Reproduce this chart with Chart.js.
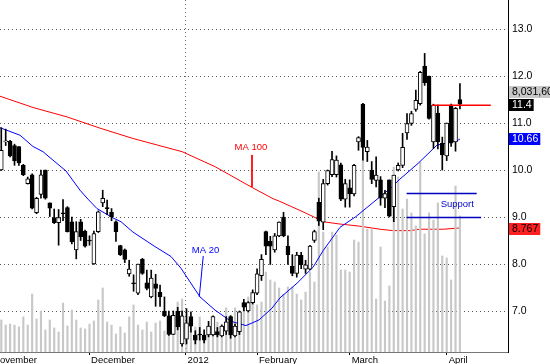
<!DOCTYPE html>
<html>
<head>
<meta charset="UTF-8">
<title>Price chart</title>
<script src="https://cdn.jsdelivr.net/npm/chart.js"></script>
<style>
  html, body { margin: 0; padding: 0; background: #fff; }
</style>
</head>
<body>
<canvas id="chart" width="550" height="364"></canvas>
<script>
// daily bars, index 0 = first bar on the left
const opens  = [10.00,10.60,10.61,10.52,10.50,10.10,9.71,9.90,9.09,9.48,10.00,9.30,8.99,8.88,9.08,9.20,8.90,8.30,8.90,8.70,
                8.50,8.00,8.69,9.30,9.20,9.10,8.90,8.39,8.30,7.79,7.60,7.38,8.10,7.60,7.30,7.58,7.40,7.00,6.90,6.50,
                7.00,6.30,6.40,6.88,6.49,6.50,6.49,6.49,6.49,6.56,6.47,6.57,6.88,6.47,6.56,7.18,7.00,7.18,7.38,7.75,
                8.69,8.48,8.30,8.60,9.00,8.38,7.95,7.80,8.19,7.89,7.89,8.50,9.31,8.89,9.71,9.90,9.90,10.11,9.38,9.62,
                9.49,10.60,11.40,10.39,10.00,9.78,9.79,9.40,9.79,9.22,10.00,10.10,10.79,10.99,11.29,11.41,12.21,12.00,10.60,11.21,
                10.57,10.30,11.38,10.60,11.50];
const highs  = [10.90,10.87,10.63,10.55,10.50,10.12,9.85,9.92,9.42,10.00,10.00,9.30,9.17,9.16,9.37,9.22,9.00,8.90,8.95,8.72,
                8.60,8.70,9.13,9.57,9.36,9.18,8.92,8.40,8.32,8.08,7.77,8.00,8.12,7.87,7.87,7.78,7.55,7.30,7.00,7.00,
                7.08,7.00,7.05,6.98,6.58,6.65,6.60,6.78,6.90,6.65,6.70,6.88,6.90,6.72,7.00,7.25,7.20,7.45,7.90,8.20,
                8.70,8.59,8.65,8.90,9.10,8.60,8.20,8.25,8.25,8.08,8.40,8.72,9.40,9.80,10.00,10.40,10.30,10.15,9.80,9.79,
                10.12,10.71,11.42,10.63,10.18,10.28,9.86,9.57,9.79,9.89,10.15,10.78,11.20,11.25,11.70,12.10,12.48,12.00,11.40,11.38,
                10.70,11.00,11.40,11.33,11.84];
const lows   = [9.99,10.52,10.28,10.10,10.10,9.88,9.70,9.17,9.07,9.40,9.38,9.01,8.86,8.40,8.92,8.68,8.43,8.11,8.50,8.36,
                8.40,7.99,8.67,9.22,9.05,8.92,8.48,8.18,8.03,7.74,7.42,7.35,7.78,7.45,7.28,7.10,7.10,6.88,6.48,6.50,
                6.60,6.25,6.30,6.55,6.30,6.38,6.32,6.45,6.47,6.45,6.45,6.50,6.42,6.45,6.50,7.00,6.98,7.15,7.35,7.65,
                8.20,7.99,8.25,8.58,8.58,7.99,7.75,7.72,7.90,7.80,7.88,8.46,8.82,8.73,9.68,9.86,9.85,9.35,9.21,9.21,
                9.45,10.42,10.21,10.18,9.71,9.64,9.25,9.20,9.00,8.90,9.98,10.05,10.65,10.95,11.25,11.38,11.80,11.08,10.46,10.45,
                10.00,10.20,10.50,10.40,11.30];
const closes = [10.42,10.62,10.30,10.20,10.15,9.90,9.81,9.19,9.40,9.90,9.40,9.19,8.88,8.99,9.07,8.69,8.47,8.69,8.58,8.38,
                8.49,8.65,9.11,9.40,9.18,9.00,8.69,8.20,8.10,7.89,7.58,8.00,7.80,7.48,7.70,7.48,7.30,6.90,6.50,6.91,
                6.66,6.90,6.75,6.68,6.38,6.49,6.38,6.68,6.88,6.49,6.68,6.77,6.49,6.68,6.98,7.08,7.18,7.39,7.79,8.10,
                8.38,8.38,8.60,8.89,8.60,8.20,7.80,8.19,7.98,7.98,8.38,8.69,8.91,9.71,9.99,10.22,10.21,9.38,9.71,9.49,
                10.10,10.69,10.48,10.49,9.80,9.89,9.40,9.50,9.02,9.89,10.10,10.48,10.99,11.20,11.48,12.08,11.86,11.10,11.38,10.60,
                10.32,11.00,10.57,11.31,11.40];
// volume, millions of shares
const volumes = [1.89,1.59,1.65,1.59,1.48,2.07,1.59,3.42,1.95,2.42,1.30,1.89,1.42,1.18,2.89,1.54,2.48,1.89,1.42,1.36,
                 1.65,1.83,3.07,3.78,1.77,1.59,1.06,1.48,1.12,2.07,2.78,1.59,1.30,1.77,1.18,1.71,1.83,1.24,2.18,1.36,
                 2.95,3.13,1.89,1.77,1.48,2.07,1.06,1.06,1.65,1.77,1.65,2.60,2.18,2.60,1.65,2.83,3.25,2.95,2.78,2.95,
                 4.72,4.25,4.13,3.78,3.42,3.84,3.84,3.42,3.07,3.54,4.72,4.13,10.63,7.08,6.20,7.08,6.91,4.84,4.84,4.72,
                 6.61,6.49,11.34,7.26,7.26,3.13,6.20,3.01,3.90,10.92,10.33,8.44,9.03,8.21,7.44,11.22,6.97,8.21,7.79,8.80,
                 5.67,5.55,4.25,9.80,8.03];

// moving averages (bar index, value)
const ma20X  = [-0.29,4.24,7.19,9.46,11.72,14.67,17.85,19.66,21.7,25.33,27.14,29.86,34.85,38.48,40.75,42.79,45.06,48.46,52.09,55.49,
                58.44,61.38,63.2,67.05,70.68,72.95,76.8,80.43,84.06,88.59,90.2,94.5,98.8,103.3,104];
const ma20   = [10.90,10.74,10.50,10.39,10.21,9.98,9.57,9.38,9.18,8.98,8.90,8.68,8.37,8.16,7.91,7.62,7.30,7.02,6.78,6.69,
                6.81,7.06,7.28,7.59,7.93,8.28,8.78,9.01,9.29,9.64,9.79,10.14,10.53,10.62,10.66];
const ma100X = [-0.29,7.19,14.9,22.4,29.9,41.0,48.5,56.85,61.4,63.2,67.96,70.7,72.95,76.8,80.9,85.9,88.8,92.7,94.9,100.2,104];
const ma100  = [11.57,11.33,11.13,10.89,10.67,10.39,10.07,9.63,9.40,9.33,9.13,9.01,8.90,8.85,8.81,8.74,8.71,8.71,8.74,8.74,8.767];

const resistance = 11.38;
const supportHigh = 9.5;
const supportLow = 8.99;

const monthTicks  = [-2.3, 19.9, 41.8, 58, 79, 101];
const monthLabels = ['November', 'December', '2012', 'February', 'March', 'April'];
const priceTicks  = [7, 8, 9, 10, 11, 12, 13];

const FONT = 'Arial, "Liberation Sans", sans-serif';

const pts = (xs, ys) => xs.map((x, i) => ({x: x, y: ys[i]}));

const lineDs = (data, color, width, order) => ({
  type: 'line', data: data, borderColor: color, borderWidth: width,
  pointRadius: 0, fill: false, tension: 0, order: order, yAxisID: 'y'
});

// no extra room for end labels, the plot must fill the canvas
const noPad = s => { s.paddingLeft = 0; s.paddingRight = 0; s.paddingTop = 0; s.paddingBottom = 0; };

const notesPlugin = {
  id: 'notes',
  afterDatasetsDraw(chart) {
    const {ctx, scales: {x, y}} = chart;
    ctx.save();
    ctx.font = '9.5px ' + FONT;
    ctx.textAlign = 'center';
    ctx.textBaseline = 'middle';
    ctx.fillStyle = '#ff0000';
    ctx.fillText('MA 100', x.getPixelForValue(56.6), y.getPixelForValue(10.49));
    ctx.fillStyle = '#0000ff';
    ctx.fillText('MA 20', x.getPixelForValue(46.3), y.getPixelForValue(8.30));
    ctx.fillStyle = '#0000c8';
    ctx.fillText('Support', x.getPixelForValue(103.4), y.getPixelForValue(9.26));
    ctx.restore();
  },
  afterDraw(chart) {
    const {ctx, scales: {y}} = chart;
    const boxes = [
      {v: 11.66, t: '8,031,600', bg: '#c8c8c8', fg: '#000'},
      {v: 11.39, t: '11.4', bg: '#000', fg: '#fff'},
      {v: 10.67, t: '10.66', bg: '#0000ff', fg: '#fff'},
      {v: 8.75, t: '8.767', bg: '#ff2020', fg: '#000'}
    ];
    ctx.save();
    ctx.font = '10.5px ' + FONT;
    ctx.textBaseline = 'middle';
    ctx.textAlign = 'left';
    const left = chart.chartArea.right + 1;
    boxes.forEach(b => {
      const py = Math.round(y.getPixelForValue(b.v));
      const w = ctx.measureText(b.t).width + 5;
      ctx.fillStyle = b.bg;
      ctx.fillRect(left, py - 6, w, 12);
      ctx.fillStyle = b.fg;
      ctx.fillText(b.t, left + 3, py + 0.5);
    });
    ctx.restore();
  }
};

new Chart(document.getElementById('chart'), {
  type: 'bar',
  data: {
    datasets: [
      lineDs(pts(ma100X, ma100), '#ff0000', 1, 7),
      {
        type: 'bar', yAxisID: 'yv', order: 6, grouped: false,
        data: volumes.map((v, i) => ({x: i, y: v})),
        backgroundColor: '#c8c8c8', barThickness: 1.5
      },
      lineDs(pts(ma20X, ma20), '#0000ff', 1, 5),
      {
        type: 'bar', yAxisID: 'y', order: 3, grouped: false,
        data: highs.map((h, i) => ({x: i, y: [lows[i], h]})),
        backgroundColor: '#000', barThickness: 1
      },
      {
        type: 'bar', yAxisID: 'y', order: 2, grouped: false,
        data: opens.map((o, i) => ({x: i, y: [Math.min(o, closes[i]), Math.max(o, closes[i])]})),
        backgroundColor: ctx => closes[ctx.dataIndex] >= opens[ctx.dataIndex] ? '#fff' : '#000',
        borderColor: '#000', borderWidth: 1, borderSkipped: false,
        barThickness: 4, minBarLength: 1
      },
      lineDs([{x: 97.7, y: resistance}, {x: 111, y: resistance}], '#ff0000', 1.5, 1),
      lineDs([{x: 91.9, y: supportHigh}, {x: 107.8, y: supportHigh}], '#0000c0', 1.5, 1),
      lineDs([{x: 91.9, y: supportLow}, {x: 108.8, y: supportLow}], '#0000c0', 1.5, 1),
      lineDs([{x: 56.85, y: 10.32}, {x: 56.85, y: 9.64}], '#ff0000', 1, 1),
      lineDs([{x: 45.8, y: 8.17}, {x: 44.9, y: 7.30}], '#0000ff', 1, 1)
    ]
  },
  options: {
    responsive: false,
    animation: false,
    layout: {padding: 0},
    plugins: {legend: {display: false}, tooltip: {enabled: false}},
    scales: {
      x: {
        type: 'linear', position: 'bottom', min: -0.29, max: 114.9, offset: false,
        afterFit: s => { s.height = 12; noPad(s); },
        afterBuildTicks: s => { s.ticks = monthTicks.map(v => ({value: v})); },
        ticks: {
          autoSkip: false, maxRotation: 0, align: 'start', labelOffset: 2, padding: 0,
          color: '#000', font: {family: FONT, size: 9.5},
          callback: v => monthLabels[monthTicks.indexOf(v)]
        },
        grid: {
          offset: false,
          color: c => (c.tick && c.tick.value === 41.8) ? '#666' : 'rgba(0,0,0,0)',
          tickColor: '#000', tickLength: 3, tickBorderDash: []
        },
        border: {display: true, color: '#777', width: 1, dash: [1, 3]}
      },
      y: {
        type: 'linear', position: 'right', min: 6.128, max: 13.617,
        afterFit: s => { s.width = 42; noPad(s); },
        afterBuildTicks: s => { s.ticks = priceTicks.map(v => ({value: v})); },
        ticks: {
          padding: 4, color: '#000', font: {family: FONT, size: 10.5},
          callback: v => Number(v).toFixed(1)
        },
        grid: {color: '#555', drawTicks: false},
        border: {display: true, color: '#000', width: 1, dash: [1, 3]}
      },
      yv: {type: 'linear', display: false, min: 0, max: 20.78}
    }
  },
  plugins: [notesPlugin]
});
</script>
</body>
</html>
